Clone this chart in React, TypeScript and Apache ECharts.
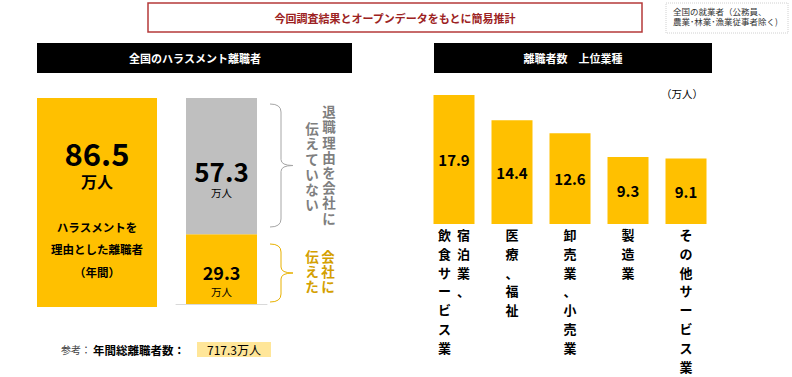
import React, { useEffect, useRef } from "react";
import * as echarts from "echarts";

const FONT = "'Noto Sans CJK JP', 'Noto Sans', sans-serif";

// ---- data ----
const bannerTitle = "今回調査結果とオープンデータをもとに簡易推計";
const noteLines = ["全国の就業者（公務員、", "農業･林業･漁業従事者除く)"];
const leftHeader = "全国のハラスメント離職者";
const rightHeader = "離職者数　上位業種";

const harassmentTotal = 86.5; // 万人
const notToldLabel = "伝えていない";
const partNames = ["会社に伝えた", "退職理由を会社に伝えていない"];
const partValues = [29.3, 57.3]; // bottom (told), top (not told)
const descLines = ["ハラスメントを", "理由とした離職者", "（年間）"];

const industries = [
  "宿泊業、\n飲食サービス業",
  "医療、福祉",
  "卸売業、小売業",
  "製造業",
  "その他サービス業",
];
const industryValues = [17.9, 14.4, 12.6, 9.3, 9.1];
const unitLabel = "（万人）";

const refLabel = "参考：";
const refTitle = "年間総離職者数：";
const totalSeparations = 717.3;

const YELLOW = "#FFC000";
const GRAY = "#BFBFBF";

function bracePath(x: number, top: number, bottom: number, w: number) {
  const mx = x + 11;
  const tip = x + w;
  const mid = (top + bottom) / 2;
  return (
    `M${x},${top} Q${mx},${top} ${mx},${top + 8} L${mx},${mid - 6} ` +
    `Q${mx},${mid} ${tip},${mid} Q${mx},${mid} ${mx},${mid + 6} ` +
    `L${mx},${bottom - 8} Q${mx},${bottom} ${x},${bottom}`
  );
}

function verticalLabel(name: string) {
  const cols = name.split("\n"); // right-to-left columns
  const ordered = cols.slice().reverse(); // leftmost first
  const rows = Math.max(...cols.map((c) => c.length));
  const lines: string[] = [];
  for (let i = 0; i < rows; i++) {
    lines.push(ordered.map((c) => `{c|${c[i] || "　"}}`).join(""));
  }
  return lines.join("\n");
}

export default function App() {
  const ref = useRef<HTMLDivElement>(null);

  useEffect(() => {
    if (!ref.current) return;
    echarts.graphic.registerShape(
      "braceGray",
      echarts.graphic.extendPath(bracePath(270, 104, 227, 23), {})
    );
    echarts.graphic.registerShape(
      "braceYellow",
      echarts.graphic.extendPath(bracePath(270, 244, 302, 23), {})
    );
    const chart = echarts.init(ref.current, null, { renderer: "svg" });

    const vText = (s: string, x: number, y: number, color: string, lh: number) => ({
      type: "text",
      z: 100,
      x,
      y,
      style: {
        text: s.split("").join("\n"),
        fill: color,
        fontSize: 13.5,
        fontWeight: "bold",
        fontFamily: FONT,
        align: "center",
        verticalAlign: "top",
        lineHeight: lh,
      },
    });

    const option: any = {
      animation: false,
      backgroundColor: "#ffffff",
      grid: [
        { left: 37, top: 98, width: 120, height: 209 },
        { left: 176, top: 98, width: 91, height: 206 },
        { left: 425, top: 80, width: 290, height: 144 },
      ],
      xAxis: [
        { gridIndex: 0, type: "category", data: ["ハラスメント離職者"], show: false },
        {
          gridIndex: 1,
          type: "category",
          data: ["内訳"],
          axisLine: { show: true, lineStyle: { color: "#d9d9d9", width: 1 } },
          axisTick: { show: false },
          axisLabel: { show: false },
        },
        {
          gridIndex: 2,
          type: "category",
          data: industries,
          axisLine: { show: false },
          axisTick: { show: false },
          axisLabel: {
            interval: 0,
            margin: 1,
            formatter: (v: string) => verticalLabel(v),
            rich: {
              c: {
                width: 19,
                align: "center",
                fontSize: 13,
                fontWeight: "bold",
                fontFamily: FONT,
                color: "#000",
                lineHeight: 18.8,
              },
            },
          },
        },
      ],
      yAxis: [
        { gridIndex: 0, type: "value", min: 0, max: harassmentTotal, show: false },
        {
          gridIndex: 1,
          type: "value",
          min: 0,
          max: partValues[0] + partValues[1],
          show: false,
        },
        { gridIndex: 2, type: "value", min: 0, max: 20, show: false },
      ],
      series: [
        {
          type: "bar",
          xAxisIndex: 0,
          yAxisIndex: 0,
          data: [harassmentTotal],
          barWidth: "100%",
          itemStyle: { color: YELLOW },
          label: {
            show: true,
            position: "insideTop",
            distance: 36,
            formatter: (p: any) => `{v|${p.value}}\n{u|万人}`,
            rich: {
              v: { fontSize: 31, fontWeight: "bold", lineHeight: 36, fontFamily: FONT, color: "#000" },
              u: { fontSize: 16, fontWeight: "bold", lineHeight: 22, fontFamily: FONT, color: "#000" },
            },
          },
        },
        {
          name: partNames[0],
          type: "bar",
          stack: "parts",
          xAxisIndex: 1,
          yAxisIndex: 1,
          data: [partValues[0]],
          barWidth: 71,
          itemStyle: { color: YELLOW },
          label: {
            show: true,
            position: "insideTop",
            distance: 27,
            formatter: (p: any) => `{v|${p.value}}\n{u|万人}`,
            rich: {
              v: { fontSize: 18, fontWeight: "bold", lineHeight: 22, fontFamily: FONT, color: "#000" },
              u: { fontSize: 10.5, lineHeight: 16, fontFamily: FONT, color: "#000" },
            },
          },
        },
        {
          name: partNames[1],
          type: "bar",
          stack: "parts",
          xAxisIndex: 1,
          yAxisIndex: 1,
          data: [partValues[1]],
          barWidth: 71,
          itemStyle: { color: GRAY },
          label: {
            show: true,
            position: "insideTop",
            distance: 58,
            formatter: (p: any) => `{v|${p.value}}\n{u|万人}`,
            rich: {
              v: { fontSize: 26, fontWeight: "bold", lineHeight: 29, fontFamily: FONT, color: "#000" },
              u: { fontSize: 10.5, lineHeight: 14, fontFamily: FONT, color: "#000" },
            },
          },
        },
        {
          type: "bar",
          xAxisIndex: 2,
          yAxisIndex: 2,
          data: industryValues,
          barWidth: 41,
          itemStyle: { color: YELLOW },
          label: {
            show: true,
            position: "inside",
            fontSize: 15,
            fontWeight: "bold",
            fontFamily: FONT,
            color: "#000",
          },
        },
      ],
      graphic: [
        {
          type: "rect",
          shape: { x: 148, y: 3, width: 494, height: 29 },
          style: { fill: "#fff", stroke: "#b53a3a", lineWidth: 1.5 },
        },
        {
          type: "text",
          z: 100,
          x: 395,
          y: 17.5,
          style: {
            text: bannerTitle,
            fill: "#9c2222",
            fontSize: 11,
            fontWeight: "bold",
            fontFamily: FONT,
            align: "center",
            verticalAlign: "middle",
          },
        },
        {
          type: "rect",
          shape: { x: 666, y: 3, width: 122, height: 30 },
          style: { fill: "#fff", stroke: "#d0d0d0", lineWidth: 1, lineDash: [1, 1] },
        },
        {
          type: "text",
          z: 100,
          x: 673,
          y: 6,
          style: {
            text: noteLines.join("\n"),
            fill: "#333",
            fontSize: 8.5,
            fontFamily: FONT,
            align: "left",
            verticalAlign: "top",
            lineHeight: 10,
          },
        },
        {
          type: "rect",
          shape: { x: 37, y: 43, width: 315, height: 30 },
          style: { fill: "#000" },
        },
        {
          type: "text",
          z: 100,
          x: 195,
          y: 58,
          style: {
            text: leftHeader,
            fill: "#fff",
            fontSize: 11,
            fontWeight: "bold",
            fontFamily: FONT,
            align: "center",
            verticalAlign: "middle",
          },
        },
        {
          type: "rect",
          shape: { x: 434, y: 43, width: 278, height: 30 },
          style: { fill: "#000" },
        },
        {
          type: "text",
          z: 100,
          x: 573,
          y: 58,
          style: {
            text: rightHeader,
            fill: "#fff",
            fontSize: 11,
            fontWeight: "bold",
            fontFamily: FONT,
            align: "center",
            verticalAlign: "middle",
          },
        },
        ...descLines.map((s, i) => ({
          type: "text",
          z: 100,
          x: 97,
          y: [227, 249, 272][i],
          style: {
            text: s,
            fill: "#000",
            fontSize: 11.5,
            fontWeight: "bold",
            fontFamily: FONT,
            align: "center",
            verticalAlign: "middle",
          },
        })),
        {
          type: "braceGray",
          x: 0,
          y: 0,
          style: { fill: "none", stroke: "#a6a6a6", lineWidth: 1 },
        },
        {
          type: "braceYellow",
          x: 0,
          y: 0,
          style: { fill: "none", stroke: "#e8b100", lineWidth: 1 },
        },
        vText("退職理由を会社に", 329, 103.5, "#7f7f7f", 15.2),
        vText(notToldLabel, 312, 120.5, "#7f7f7f", 15.2),
        vText("会社に", 328, 248.5, "#d4a000", 15),
        vText("伝えた", 312, 248.5, "#d4a000", 15),
        {
          type: "text",
          z: 100,
          x: 682,
          y: 93,
          style: {
            text: unitLabel,
            fill: "#000",
            fontSize: 10.5,
            fontFamily: FONT,
            align: "center",
            verticalAlign: "middle",
          },
        },
        {
          type: "text",
          z: 100,
          x: 61,
          y: 349.5,
          style: {
            text: refLabel,
            fill: "#404040",
            fontSize: 10,
            fontFamily: FONT,
            align: "left",
            verticalAlign: "middle",
          },
        },
        {
          type: "text",
          z: 100,
          x: 93,
          y: 349.5,
          style: {
            text: refTitle,
            fill: "#000",
            fontSize: 11.5,
            fontWeight: "bold",
            fontFamily: FONT,
            align: "left",
            verticalAlign: "middle",
          },
        },
        {
          type: "rect",
          shape: { x: 197, y: 342, width: 74, height: 15 },
          style: { fill: "#FFE699" },
        },
        {
          type: "text",
          z: 100,
          x: 234,
          y: 349.5,
          style: {
            text: `${totalSeparations}万人`,
            fill: "#000",
            fontSize: 12,
            fontFamily: FONT,
            align: "center",
            verticalAlign: "middle",
          },
        },
      ],
    };

    chart.setOption(option);
    return () => chart.dispose();
  }, []);

  return (
    <div
      ref={ref}
      style={{ position: "fixed", left: 0, top: 0, width: 792, height: 377 }}
    />
  );
}
